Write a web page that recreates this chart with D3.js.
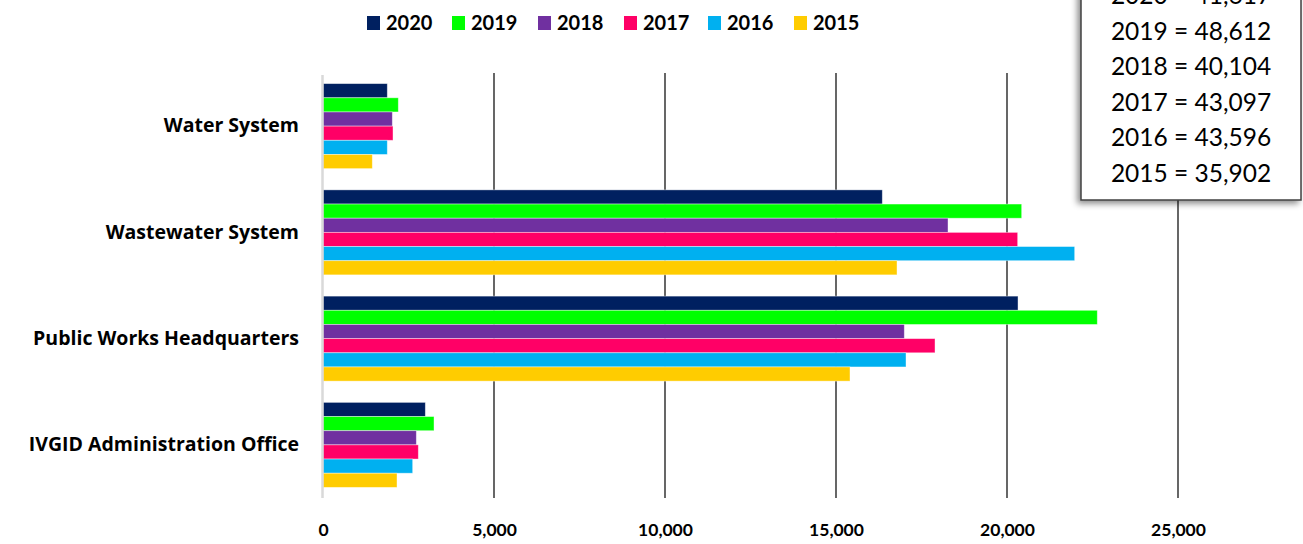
<!DOCTYPE html>
<html>
<head>
<meta charset="utf-8">
<script src="https://cdn.jsdelivr.net/npm/d3@7"></script>
<style>
  body { margin: 0; background: #fff; }
  svg { display: block; font-family: Lato, "Open Sans", sans-serif; }
</style>
</head>
<body>
<div id="chart"></div>
<script>
// data
const categories = ['Water System', 'Wastewater System', 'Public Works Headquarters', 'IVGID Administration Office']
const years = ['2020', '2019', '2018', '2017', '2016', '2015']
const colors = ['#002060', '#00ff00', '#7030a0', '#ff0066', '#00b0f0', '#ffcc00']
const values2020 = [1880, 16354, 20322, 2992]
const values2019 = [2202, 20429, 22640, 3246]
const values2018 = [2027, 18275, 16997, 2729]
const values2017 = [2047, 20312, 17895, 2787]
const values2016 = [1880, 21979, 17047, 2622]
const values2015 = [1442, 16784, 15409, 2164]
const totals = ['2020 = 41,617', '2019 = 48,612', '2018 = 40,104', '2017 = 43,097', '2016 = 43,596', '2015 = 35,902']
const xTicks = [0, 5000, 10000, 15000, 20000, 25000]

const series = [values2020, values2019, values2018, values2017, values2016, values2015]
const rows = categories.map((c, i) => {
    const row = { category: c }
    years.forEach((y, j) => { row[y] = series[j][i] })
    return row
})

const CONFIG = {
    width: 1303,
    height: 544,
    margin: { top: 73, bottom: 46, left: 323, right: 125 }
}
const innerH = CONFIG.height - CONFIG.margin.top - CONFIG.margin.bottom
const FONT = 'Lato, "Open Sans", sans-serif'

const svg = d3.select('#chart')
    .append('svg')
    .attr('width', CONFIG.width)
    .attr('height', CONFIG.height)

const defs = svg.append('defs')
const shadow = defs.append('filter').attr('id', 'shadow')
    .attr('x', '-10%').attr('y', '-10%').attr('width', '130%').attr('height', '130%')
shadow.append('feDropShadow')
    .attr('dx', -3).attr('dy', 3).attr('stdDeviation', 3)
    .attr('flood-color', '#000').attr('flood-opacity', 0.45)

const g = svg.append('g')
    .attr('transform', `translate(${CONFIG.margin.left}, ${CONFIG.margin.top})`)

const x = d3.scaleLinear()
    .domain([0, 25000])
    .range([0, 855])

const y0 = d3.scaleBand()
    .domain(categories)
    .range([0, innerH])
    .paddingInner(0.2)
    .paddingOuter(0.1)

const y1 = d3.scaleBand()
    .domain(years)
    .range([0, y0.bandwidth()])

const color = d3.scaleOrdinal().domain(years).range(colors)

// gridlines
g.append('g')
    .selectAll('line')
    .data(xTicks.slice(1))
    .join('line')
    .attr('x1', d => x(d))
    .attr('x2', d => x(d))
    .attr('y1', 0)
    .attr('y2', innerH)
    .attr('stroke', '#000')
    .attr('stroke-width', 1.2)

// bars
const groups = g.append('g')
    .selectAll('g')
    .data(rows)
    .join('g')
    .attr('transform', d => `translate(0, ${y0(d.category)})`)

groups.selectAll('rect')
    .data(d => years.map(yr => ({ year: yr, value: d[yr] })))
    .join('rect')
    .attr('x', 0)
    .attr('y', d => y1(d.year))
    .attr('width', d => x(d.value))
    .attr('height', y1.bandwidth())
    .attr('fill', d => color(d.year))
    .attr('stroke', 'rgba(255,255,255,0.5)')
    .attr('stroke-width', 0.8)

// value axis line (light)
g.append('line')
    .attr('x1', -0.5).attr('x2', -0.5)
    .attr('y1', 2).attr('y2', innerH)
    .attr('stroke', '#d9d9d9')
    .attr('stroke-width', 2.5)

// x axis labels
const xAxis = g.append('g')
    .attr('transform', `translate(0, ${innerH})`)
    .call(d3.axisBottom(x).tickValues(xTicks).tickFormat(d3.format(',')).tickSize(0).tickPadding(26))
    .attr('font-family', FONT)
xAxis.select('.domain').remove()
xAxis.selectAll('text')
    .attr('font-size', 17.5)
    .attr('font-weight', 'bold')
    .attr('fill', '#000')

// y axis labels
const yAxis = g.append('g')
    .call(d3.axisLeft(y0).tickSize(0).tickPadding(24))
    .attr('font-family', '"Open Sans", Lato, sans-serif')
yAxis.select('.domain').remove()
yAxis.selectAll('text')
    .attr('font-size', 19.5)
    .attr('font-weight', 'bold')
    .attr('fill', '#000')

// legend
const legendX = [367, 452, 538, 624, 708, 794]
const legend = svg.append('g')
    .selectAll('g')
    .data(years)
    .join('g')
    .attr('transform', (d, i) => `translate(${legendX[i]}, 16)`)

legend.append('rect')
    .attr('width', 13)
    .attr('height', 14)
    .attr('fill', d => color(d))

legend.append('text')
    .attr('x', 19)
    .attr('y', 14)
    .attr('font-size', 20)
    .attr('font-weight', 'bold')
    .attr('fill', '#000')
    .text(d => d)

// totals box
const box = svg.append('g')
box.append('rect')
    .attr('x', 1081)
    .attr('y', -40)
    .attr('width', 220)
    .attr('height', 240)
    .attr('fill', '#fff')
    .attr('stroke', '#404040')
    .attr('stroke-width', 1.5)
    .attr('filter', 'url(#shadow)')

box.selectAll('text')
    .data(totals)
    .join('text')
    .attr('x', 1191)
    .attr('y', (d, i) => 4 + i * 35.5)
    .attr('text-anchor', 'middle')
    .attr('font-size', 24.5)
    .attr('fill', '#000')
    .text(d => d)
</script>
</body>
</html>
